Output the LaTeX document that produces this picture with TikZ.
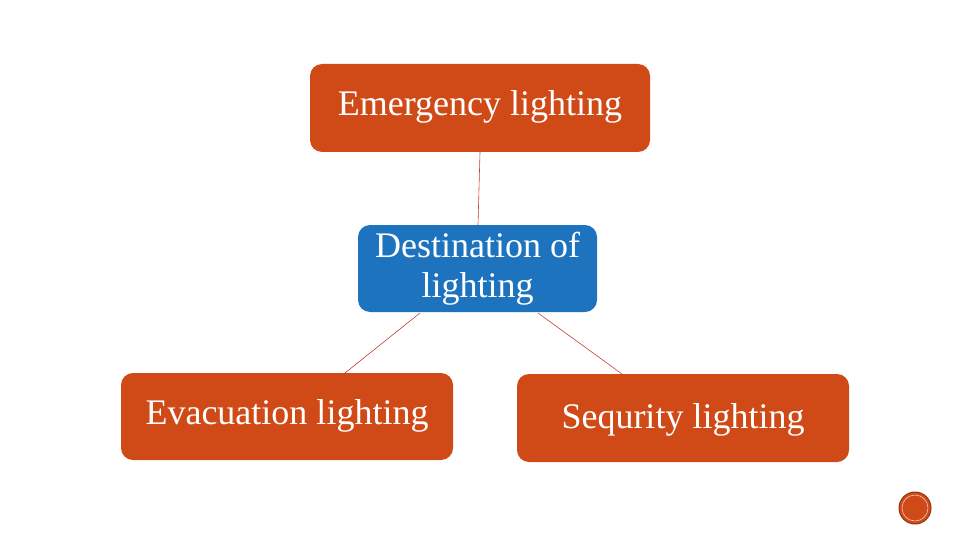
\documentclass[tikz,border=0pt]{standalone}
\usepackage{fontspec}
\setmainfont{Liberation Serif}
\definecolor{orng}{HTML}{CF4A17}
\definecolor{blu}{HTML}{1E73BE}
\definecolor{lnk}{HTML}{C8403A}
\begin{document}
\begin{tikzpicture}[x=1pt,y=-1pt,
  box/.style={draw=none,text=white,font=\fontsize{36}{40}\selectfont,align=center,inner sep=0pt},
  link/.style={draw=lnk,line width=0.6pt}]
\useasboundingbox (0,0) rectangle (960,540);
\fill[orng,rounded corners=12pt] (310,64) rectangle (650,152);
\node[box] (em) at (480,107) {Emergency lighting};
\fill[blu,rounded corners=12pt] (358,225) rectangle (597,312);
\node[box] (de) at (477.5,269) {Destination of\\lighting};
\fill[orng,rounded corners=12pt] (121,373) rectangle (453,460);
\node[box] (ev) at (287,416) {Evacuation lighting};
\fill[orng,rounded corners=12pt] (517,374) rectangle (849,462);
\node[box] (se) at (683,420) {Sequrity lighting};
\coordinate (emb) at (480,152);
\coordinate (det) at (478,225);
\coordinate (dbl) at (420,313);
\coordinate (dbr) at (538,313);
\coordinate (evt) at (345,373);
\coordinate (set) at (622,374);
\draw[link] (emb) -- (det);
\draw[link] (dbl) -- (evt);
\draw[link] (dbr) -- (set);
\node[circle,fill=orng,draw=orng!70!black,line width=1pt,minimum size=32pt,inner sep=0pt] (pg) at (915,508) {};
\draw[white!70!orng,line width=0.6pt] (pg.center) circle (13pt);
\end{tikzpicture}
\end{document}
